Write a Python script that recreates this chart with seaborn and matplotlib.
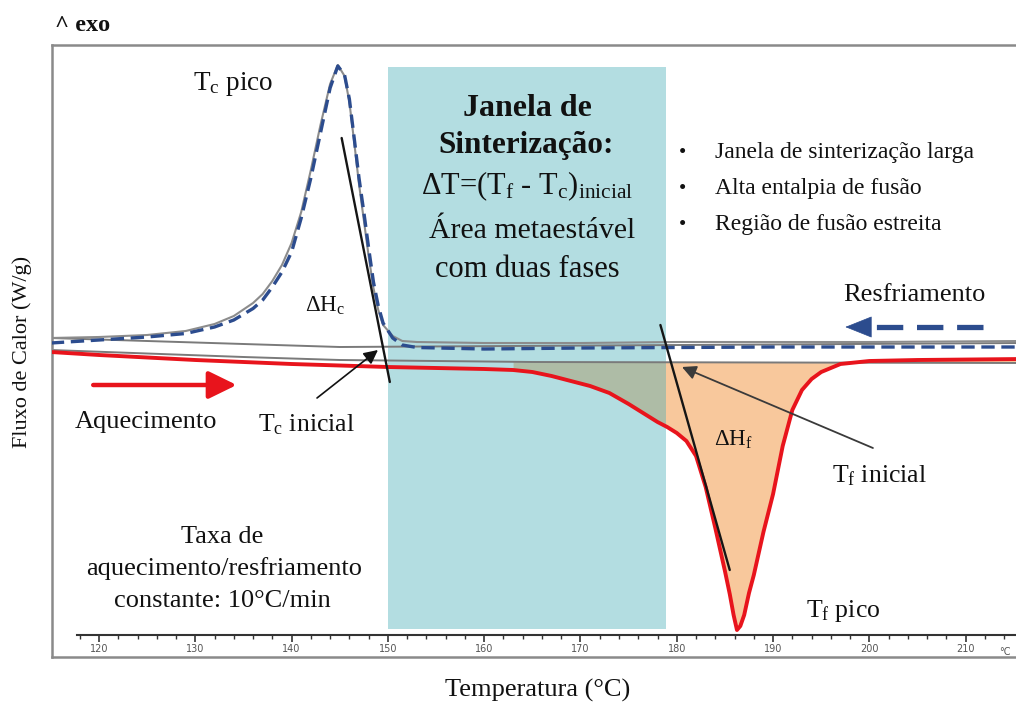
import numpy as np
import matplotlib
matplotlib.use("Agg")
import matplotlib.pyplot as plt
import seaborn as sns
from matplotlib.ticker import FixedLocator

# ---------------- data (temperature in °C, heat flow in W/g, arbitrary offset) ----------------
cool_T = [115, 120, 125, 129, 132, 134, 136, 137, 138, 139, 140, 141, 142, 143, 144,
          144.8, 145.5, 146, 146.5, 147, 147.5, 148, 148.5, 149, 149.5, 150.5, 151.5,
          153, 160, 170, 180, 190, 200, 216]
cool_hf = [0.14, 0.17, 0.20, 0.235, 0.30, 0.37, 0.485, 0.57, 0.70, 0.85, 1.05, 1.39, 1.79,
           2.24, 2.69, 2.91, 2.82, 2.58, 2.19, 1.79, 1.45, 1.09, 0.75, 0.51, 0.34, 0.19,
           0.12, 0.095, 0.08, 0.09, 0.095, 0.10, 0.10, 0.10]
cool_raw_hf = [0.19, 0.20, 0.22, 0.26, 0.33, 0.41, 0.54, 0.63, 0.76, 0.92, 1.14, 1.45, 1.87,
               2.32, 2.73, 2.92, 2.81, 2.55, 2.15, 1.73, 1.37, 1.01, 0.69, 0.47, 0.32, 0.21,
               0.16, 0.15, 0.14, 0.14, 0.15, 0.15, 0.15, 0.16]

heat_T = [115, 120, 130, 140, 150, 155, 160, 163, 165, 167, 169, 171, 173, 175, 177, 178,
          179, 180, 181, 182, 183, 184, 185, 185.5, 185.9, 186.25, 186.6, 187, 187.5, 188,
          189, 190, 191, 192, 193, 194, 195, 197, 200, 205, 216]
heat_hf = [0.05, 0.02, -0.03, -0.07, -0.10, -0.11, -0.12, -0.13, -0.15, -0.19, -0.24, -0.29,
           -0.36, -0.47, -0.59, -0.65, -0.70, -0.76, -0.84, -0.99, -1.30, -1.71, -2.14, -2.37,
           -2.58, -2.73, -2.69, -2.58, -2.36, -2.18, -1.75, -1.37, -0.89, -0.53, -0.33, -0.22,
           -0.15, -0.07, -0.04, -0.03, -0.02]

base_heat_T = [115, 135, 145, 165, 216]
base_heat_hf = [0.07, 0.0, -0.03, -0.05, -0.06]
base_cool_T = [115, 145, 216]
base_cool_hf = [0.19, 0.10, 0.14]

window_T = [150.0, 178.9]          # sintering window (Tc onset -> Tf onset)
tangent_c_T = [145.2, 150.2]
tangent_c_hf = [2.19, -0.25]
tangent_f_T = [178.3, 185.5]
tangent_f_hf = [0.32, -2.13]

tc_onset = (148.97, 0.07)
tc_onset_label = (142.64, -0.41)
tf_onset = (180.54, -0.10)
tf_onset_label = (200.37, -0.91)
heat_arrow_T = [119.4, 134.3]
heat_arrow_hf = -0.28
cool_arrow_T = [211.8, 197.5]
cool_arrow_hf = 0.30

ruler_major = [120, 130, 140, 150, 160, 170, 180, 190, 200, 210]
ruler_minor = list(range(118, 216, 2))

bullets = ["Janela de sinterização larga", "Alta entalpia de fusão", "Região de fusão estreita"]

# ---------------- style ----------------
sns.set_theme(style="white")
plt.rcParams["font.family"] = ["Liberation Serif", "DejaVu Serif"]
plt.rcParams["mathtext.fontset"] = "custom"
plt.rcParams["mathtext.rm"] = "Liberation Serif"
plt.rcParams["mathtext.it"] = "Liberation Serif:italic"
plt.rcParams["mathtext.bf"] = "Liberation Serif:bold"

RED = "#E8141C"
NAVY = "#2C4C8E"
GRAY = "#8A8A8A"
ORANGE = "#F8C89C"
TEAL = "#41ACB6"

W, H = 1016, 707
fig = plt.figure(figsize=(W / 100, H / 100), dpi=100)
fig.patch.set_facecolor("white")


def fx(px):
    return px / W


def fy(py):
    return 1 - py / H


ax_l, ax_r, ax_t, ax_b = 52, 1030, 45, 657
ax = fig.add_axes([fx(ax_l), fy(ax_b), (ax_r - ax_l) / W, (ax_b - ax_t) / H])
ax.set_facecolor("white")
ax.set_xlim(115.12, 216.68)
ax.set_ylim(-3.0, 3.12)

# melting area fill + sintering window
base_i = np.interp(heat_T, base_heat_T, base_heat_hf)
mask = np.array(heat_T) >= 163
ax.fill_between(heat_T, heat_hf, base_i, where=mask, color=ORANGE, lw=0, zorder=1)
ax.axvspan(window_T[0], window_T[1], ymin=0.046, ymax=0.964, color=TEAL, alpha=0.4, lw=0, zorder=1.5)

# curves
sns.lineplot(x=base_heat_T, y=base_heat_hf, ax=ax, color="#7A7A7A", lw=1.4, zorder=2)
sns.lineplot(x=base_cool_T, y=base_cool_hf, ax=ax, color="#7A7A7A", lw=1.4, zorder=2)
sns.lineplot(x=cool_T, y=cool_raw_hf, ax=ax, color="#8C8C8C", lw=1.5, zorder=2)
sns.lineplot(x=cool_T, y=cool_hf, ax=ax, color=NAVY, lw=2.4, linestyle=(0, (4, 2)), zorder=3)
sns.lineplot(x=heat_T, y=heat_hf, ax=ax, color=RED, lw=2.8, zorder=3)

# tangents
ax.plot(tangent_c_T, tangent_c_hf, color="#151515", lw=1.7, zorder=4)
ax.plot(tangent_f_T, tangent_f_hf, color="#151515", lw=1.7, zorder=4)

# onset arrows
ax.annotate("", xy=tc_onset, xytext=tc_onset_label,
            arrowprops=dict(arrowstyle="-|>,head_length=0.6,head_width=0.3", color="#111111",
                            lw=1.2, shrinkA=0, shrinkB=0, mutation_scale=14), zorder=5)
ax.annotate("", xy=tf_onset, xytext=tf_onset_label,
            arrowprops=dict(arrowstyle="-|>,head_length=0.6,head_width=0.3", color="#3A3A3A",
                            lw=1.3, shrinkA=0, shrinkB=0, mutation_scale=14), zorder=5)

# heating / cooling direction arrows
ax.annotate("", xy=(heat_arrow_T[1], heat_arrow_hf), xytext=(heat_arrow_T[0], heat_arrow_hf),
            arrowprops=dict(arrowstyle="-|>,head_length=0.45,head_width=0.22", color=RED,
                            lw=3.2, shrinkA=0, shrinkB=0, mutation_scale=38), zorder=5)
ax.plot([cool_arrow_T[0], cool_arrow_T[1] + 2.3], [cool_arrow_hf, cool_arrow_hf], color=NAVY,
        lw=3.8, linestyle=(0, (5, 2.6)), zorder=5)
ax.annotate("", xy=(cool_arrow_T[1], cool_arrow_hf), xytext=(cool_arrow_T[1] + 2.6, cool_arrow_hf),
            arrowprops=dict(arrowstyle="-|>,head_length=0.5,head_width=0.2", color=NAVY,
                            lw=0.5, shrinkA=0, shrinkB=0, mutation_scale=36), zorder=5)

# frame
for s in ax.spines.values():
    s.set_color(GRAY)
    s.set_linewidth(1.8)
ax.set_xticks([])
ax.set_yticks([])

# inner temperature ruler
secax = ax.secondary_xaxis((657 - 635) / 612)
secax.xaxis.set_major_locator(FixedLocator(ruler_major))
secax.xaxis.set_minor_locator(FixedLocator(ruler_minor))
secax.tick_params(which="major", direction="out", length=5, width=1.2, color="#333333",
                  labelsize=7, labelcolor="#555555", pad=1.5, labelfontfamily="DejaVu Sans")
secax.tick_params(which="minor", direction="out", length=3, width=1.0, color="#333333")
secax.spines["bottom"].set_color("#333333")
secax.spines["bottom"].set_linewidth(1.5)
secax.spines["bottom"].set_bounds(117.7, 216.68)
fig.text(fx(999), fy(655), "°C", fontsize=7, color="#555555", family="DejaVu Sans")

# axis labels
ax.set_xlabel("Temperatura (°C)", fontsize=19, va="center", color="#111111")
ax.xaxis.set_label_coords((538 - ax_l) / (ax_r - ax_l), -33 / 612)
ax.set_ylabel("Fluxo de Calor (W/g)", fontsize=16, va="center", color="#111111")
ax.yaxis.set_label_coords(-30 / (ax_r - ax_l), 305 / 612)


def txt(px, py, s, size, ha="left", weight="normal"):
    fig.text(fx(px), fy(py), s, fontsize=size, ha=ha, va="baseline", weight=weight,
             color="#111111", zorder=10)


txt(55, 31, "^ exo", 17.5, weight="bold")
txt(193, 90, "T$_{\\rm c}$ pico", 19.5)
txt(305, 312, "ΔH$_{\\rm c}$", 16.5)
txt(258, 431, "T$_{\\rm c}$ inicial", 18.5)
txt(75, 428, "Aquecimento", 19)
txt(527, 116, "Janela de", 23, ha="center", weight="bold")
txt(526, 153, "Sinterização:", 22.5, ha="center", weight="bold")
txt(527, 194, "ΔT=(T$_{\\rm f}$ - T$_{\\rm c}$)$_{\\rm inicial}$", 22, ha="center")
txt(532, 238, "Área metaestável", 21.5, ha="center")
txt(527, 277, "com duas fases", 22, ha="center")
for i, b in enumerate(bullets):
    txt(679, 158 + 36 * i, "•", 15)
    txt(715, 158 + 36 * i, b, 17)
txt(843, 301, "Resfriamento", 19)
txt(714, 446, "ΔH$_{\\rm f}$", 16.5)
txt(832, 482, "T$_{\\rm f}$ inicial", 18.5)
txt(806, 617, "T$_{\\rm f}$ pico", 18.5)
txt(222, 543, "Taxa de", 19, ha="center")
txt(224, 575, "aquecimento/resfriamento", 19, ha="center")
txt(222, 607, "constante: 10°C/min", 19, ha="center")

fig.savefig("out.png", dpi=100, facecolor="white")
